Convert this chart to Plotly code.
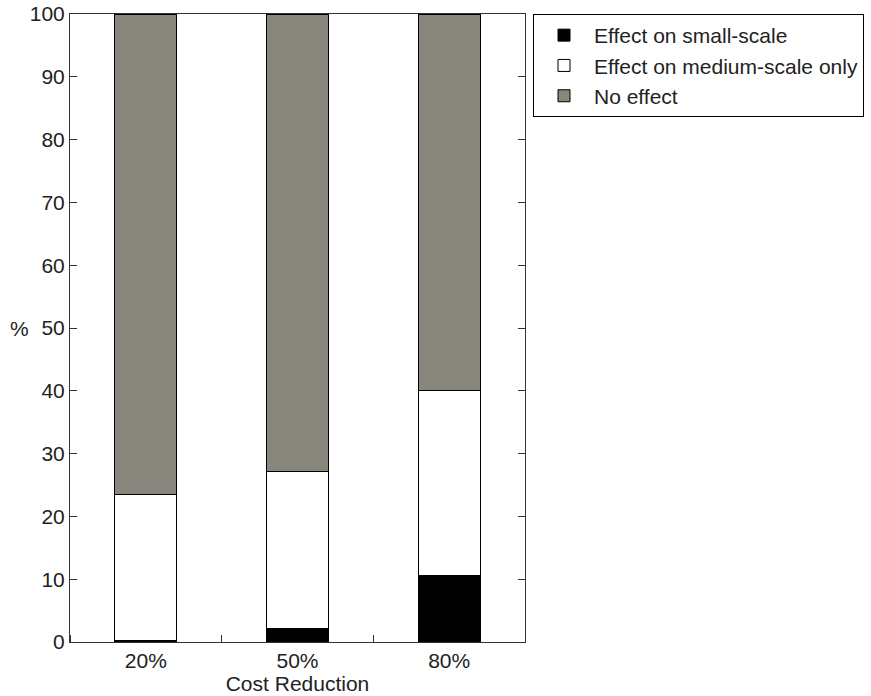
import plotly.graph_objects as go

categories = ["20%", "50%", "80%"]
positions = [1, 2, 3]
small_scale = [0.2, 2.2, 10.6]
medium_only = [23.3, 25.0, 29.4]
no_effect = [76.5, 72.8, 60.0]
y_ticks = [0, 10, 20, 30, 40, 50, 60, 70, 80, 90, 100]

FONT = "Liberation Sans, Arial, sans-serif"
FS = 21

fig = go.Figure()
fig.add_trace(go.Bar(x=positions, y=small_scale, name="Effect on small-scale",
                     marker=dict(color="black", line=dict(color="black", width=1)),
                     width=0.41))
fig.add_trace(go.Bar(x=positions, y=medium_only, name="Effect on medium-scale only",
                     marker=dict(color="white", line=dict(color="black", width=1)),
                     width=0.41))
fig.add_trace(go.Bar(x=positions, y=no_effect, name="No effect",
                     marker=dict(color="#8a8862", line=dict(color="black", width=1),
                                 pattern=dict(shape=".", fgcolor="#7e7ed0", bgcolor="#8a8862",
                                              size=4, solidity=0.5)),
                     width=0.41))

fig.add_annotation(text="%", xref="paper", yref="paper", x=-0.11, y=0.5,
                   xanchor="center", yanchor="middle", showarrow=False,
                   font=dict(size=FS, family=FONT, color="#222"))

fig.update_layout(
    width=871, height=696,
    barmode="stack",
    plot_bgcolor="white", paper_bgcolor="white",
    margin=dict(l=70, r=346, t=14, b=54, autoexpand=False),
    font=dict(family=FONT, size=FS, color="#222"),
    showlegend=True,
    legend=dict(x=1.0176, y=1, xanchor="left", yanchor="top",
                bordercolor="black", borderwidth=1, traceorder="normal",
                font=dict(size=FS, family=FONT, color="#222"),
                tracegroupgap=0, itemwidth=50, bgcolor="white"),
)
fig.update_xaxes(
    range=[0.5, 3.5], tickvals=positions, ticktext=categories,
    ticks="", showline=True, linecolor="#333", linewidth=1, mirror=True,
    showgrid=False, zeroline=False, automargin=False,
    minor=dict(tick0=0.5, dtick=1, ticks="inside", ticklen=7, tickcolor="#333", showgrid=False),
    title=dict(text="Cost Reduction", standoff=0, font=dict(size=FS, family=FONT)),
    tickfont=dict(size=FS, family=FONT),
)
fig.update_yaxes(
    range=[0, 100], tickvals=y_ticks, ticks="inside", ticklen=7, tickcolor="#333",
    showline=True, linecolor="#333", linewidth=1, mirror="ticks",
    showgrid=False, zeroline=False, automargin=False,
    tickfont=dict(size=FS, family=FONT),
)

fig.write_html("out.html", config={"displayModeBar": False},
               post_script="document.body.style.margin='0';")
